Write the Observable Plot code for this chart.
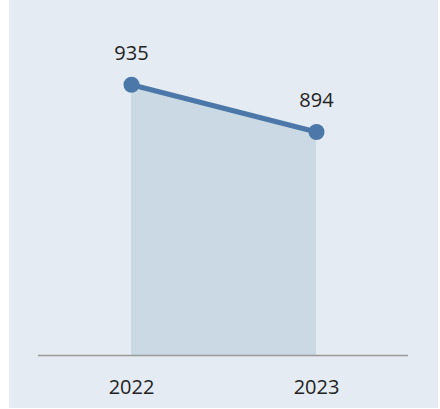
<!DOCTYPE html>
<html>
<head>
<meta charset="utf-8">
<script src="https://cdn.jsdelivr.net/npm/d3@7"></script>
<script src="https://cdn.jsdelivr.net/npm/@observablehq/plot@0.6"></script>
<style>
  html, body { margin: 0; padding: 0; background: #ffffff; }
  #panel { position: absolute; left: 9px; top: 0; width: 429px; height: 408px; background: #e4ebf2; }
</style>
</head>
<body>
<div id="panel"></div>
<script>
const years = ["2022", "2023"];
const values = [935, 894];
const yDomain = [700, 950];

const data = years.map((year, i) => ({year, value: values[i]}));

const chart = Plot.plot({
  width: 429,
  height: 408,
  marginLeft: 29,
  marginRight: 30,
  marginTop: 67,
  marginBottom: 53,
  style: { background: "transparent", fontFamily: "'Open Sans', sans-serif", color: "#222" },
  x: { type: "point", domain: years, padding: 0.5, label: null },
  y: { domain: yDomain, axis: null },
  marks: [
    Plot.areaY(data, { x: "year", y1: yDomain[0], y2: "value", fill: "#cbd9e4" }),
    Plot.ruleY([yDomain[0]], { stroke: "#999", strokeWidth: 1.5 }),
    Plot.line(data, { x: "year", y: "value", stroke: "#4b78a8", strokeWidth: 5 }),
    Plot.dot(data, { x: "year", y: "value", r: 8, fill: "#4b78a8", stroke: "none" }),
    Plot.text(data, { x: "year", y: "value", text: d => String(d.value), dy: -31, fontSize: 20, fill: "#222" }),
    Plot.axisX({ tickSize: 0, tickPadding: 24, fontSize: 20, label: null, fill: "#222" })
  ]
});
document.getElementById("panel").appendChild(chart);
</script>
</body>
</html>
